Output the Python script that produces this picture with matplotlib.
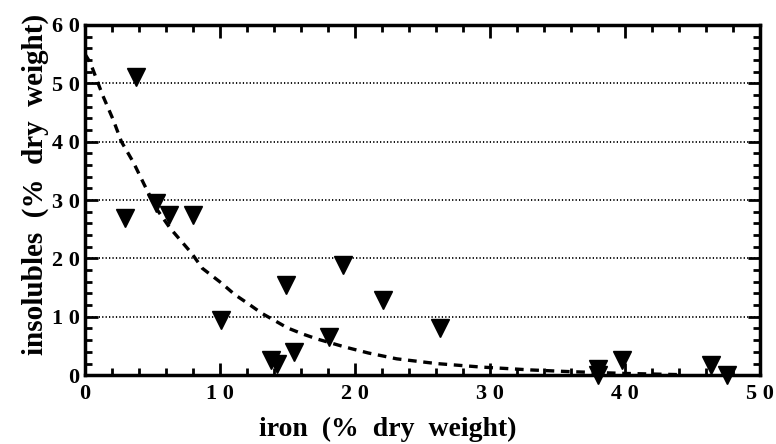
import matplotlib
matplotlib.use("Agg")
from matplotlib import pyplot as plt
from matplotlib.ticker import MultipleLocator

# measured points: iron vs insolubles (% dry weight)
iron = [3.8, 3.0, 5.3, 6.2, 8.0, 10.1, 13.8, 14.2, 15.5, 14.9, 18.1, 19.1,
        22.1, 26.3, 38.0, 38.0, 39.8, 46.4, 47.6]
insol = [51.1, 26.9, 29.5, 27.4, 27.4, 9.4, 2.6, 2.0, 4.0, 15.4, 6.5, 18.9,
         12.9, 8.0, 1.0, 0.0, 2.6, 1.7, 0.0]

# fitted curve
fit_x = [0, 0.4, 1.3, 2.1, 2.7, 3.6, 4.4, 5.3, 6.3, 7.9, 8.7, 10.1, 11.1, 12.0,
         13.1, 14.1, 15.0, 16.2, 17.2, 19.3, 21.0, 23.1, 26.0, 29.3, 33.0, 36.0,
         40.0, 44.0]
fit_y = [55.0, 53.5, 48.0, 43.7, 40.0, 36.4, 32.6, 28.5, 25.2, 20.9, 18.3, 15.8,
         13.8, 12.4, 10.6, 9.3, 8.1, 7.0, 6.2, 4.8, 3.8, 2.8, 2.0, 1.4, 0.9, 0.6,
         0.3, 0.1]

x_ticks = [0, 10, 20, 30, 40, 50]
y_ticks = [0, 10, 20, 30, 40, 50, 60]
x_labels = ["0", "1 0", "2 0", "3 0", "4 0", "5 0"]
y_labels = ["0", "1 0", "2 0", "3 0", "4 0", "5 0", "6 0"]

plt.rcParams["font.family"] = ["Liberation Serif", "DejaVu Serif"]
plt.rcParams["font.weight"] = "bold"

fig = plt.figure(figsize=(7.76, 4.44), dpi=100)
ax = fig.add_axes([0.1095, 0.155, 0.8695, 0.789])

# dotted horizontal grid
for yv in y_ticks[1:-1]:
    ax.plot([0, 50], [yv, yv], color="black", lw=1.3, linestyle=(0, (0.7, 1.2)), zorder=1)

ax.plot(fit_x, fit_y, color="black", lw=2.4, linestyle=(0, (2.6, 2.0)), zorder=2)
ax.plot(iron, insol, linestyle="none", marker="v", ms=13, color="black",
        clip_on=False, zorder=3)

ax.set_xlim(0, 50)
ax.set_ylim(0, 60)
ax.set_xticks(x_ticks)
ax.set_xticklabels(x_labels)
ax.set_yticks(y_ticks)
ax.set_yticklabels(y_labels)
ax.xaxis.set_minor_locator(MultipleLocator(2))
ax.yaxis.set_minor_locator(MultipleLocator(2))
ax.tick_params(which="both", direction="in", top=True, right=True, width=2, labelsize=16)
ax.tick_params(which="major", length=9)
ax.tick_params(axis="x", which="major", pad=6)
ax.tick_params(axis="y", which="major", pad=4)
ax.tick_params(which="minor", length=5)
for s in ax.spines.values():
    s.set_linewidth(2.5)

ax.set_xlabel("iron  (%  dry  weight)", fontsize=20, fontweight="bold")
ax.set_ylabel("insolubles  (%  dry  weight)", fontsize=21, fontweight="bold")
ax.xaxis.set_label_coords(0.449, -0.12)
ax.yaxis.set_label_coords(-0.054, 0.545)

fig.savefig("out.png", dpi=100)
